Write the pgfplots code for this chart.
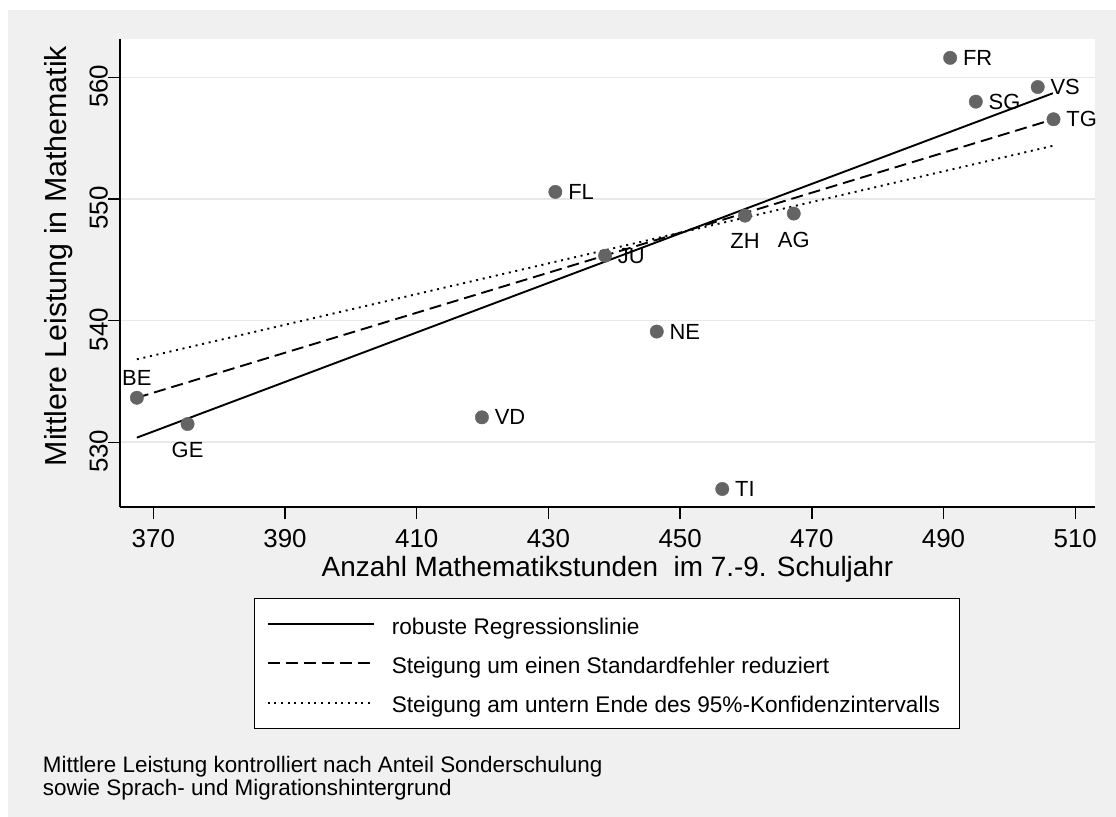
\documentclass[border=0pt]{standalone}
\usepackage{fontspec}
\setmainfont{Liberation Sans}
\usepackage{pgfplots}
\pgfplotsset{compat=1.18}
\definecolor{bggray}{RGB}{240,240,240}
\definecolor{gridgray}{RGB}{232,232,232}
\definecolor{markgray}{RGB}{100,100,100}
\begin{document}
\begin{tikzpicture}
\useasboundingbox (0,0) rectangle (1116bp,817bp);
\fill[white] (0,0) rectangle (1116bp,817bp);
\fill[bggray] (8bp,0) rectangle (1116bp,807bp);
\begin{axis}[
  at={(120bp,310bp)}, anchor=south west,
  scale only axis, width=975bp, height=468bp,
  xmin=364.94, xmax=513.0, ymin=524.68, ymax=563.15,
  axis background/.style={fill=white},
  axis x line*=bottom, axis y line*=left,
  axis line style={-, black, line width=2bp},
  clip=false,
  xtick={370,390,...,510}, ytick={530,540,550,560},
  tick align=outside, major tick length=12bp,
  tick style={black, line width=1.4bp},
  ymajorgrids, grid style={gridgray, line width=1.6bp},
  /pgf/number format/assume math mode=true,
  /pgf/number format/1000 sep={},
  ticklabel style={font=\fontsize{26}{26}\selectfont, black},
  xticklabel style={anchor=north, inner sep=0pt, yshift=-10bp},
  yticklabel style={rotate=90, anchor=south, inner sep=0pt, xshift=-9bp},
  xlabel={Anzahl Mathematikstunden\ \ im 7.-9. Schuljahr},
  ylabel={Mittlere Leistung in Mathematik},
  every axis x label/.style={at={(axis description cs:0.5,-0.1489)}, anchor=base, font=\fontsize{28}{28}\selectfont},
  every axis y label/.style={at={(axis description cs:-0.0547,0.5363)}, rotate=90, anchor=base, font=\fontsize{30.5}{30.5}\selectfont},
  legend style={at={(axis description cs:0.1374,-0.1944)}, anchor=north west,
    draw=black, line width=1.3bp, fill=white,
    inner xsep=12bp, inner ysep=6bp, row sep=0bp,
    font=\fontsize{22.7}{22.7}\selectfont,
    /tikz/every odd column/.append style={column sep=16.6bp},
    nodes={inner sep=0pt, minimum height=39.2bp, text height=22bp, text depth=2.3bp}},
  legend cell align=left,
  legend image code/.code={\draw[#1] (0bp,0bp) -- (106.7bp,0bp);},
]
\addplot[black, line width=1.9bp, solid] coordinates {(367.5,530.38) (506.6,558.69)};
\addlegendentry{\makebox[556bp][l]{robuste Regressionslinie}}
\addplot[black, line width=1.9bp, dash pattern=on 12bp off 6bp] coordinates {(367.5,533.66) (506.7,556.55)};
\addlegendentry{\makebox[556bp][l]{Steigung um einen Standardfehler reduziert}}
\addplot[black, line width=1.9bp, dash pattern=on 2bp off 4.7bp] coordinates {(367.5,536.82) (506.7,554.38)};
\addlegendentry{\makebox[556bp][l]{Steigung am untern Ende des 95\%-Konfidenzintervalls}}
% markers, labels to the right
\addplot[only marks, mark=*, mark size=6.7bp, markgray, mark options={fill=markgray, draw=markgray},
  point meta=explicit symbolic, nodes near coords,
  nodes near coords style={anchor=west, inner sep=0pt, xshift=12.7bp, font=\fontsize{22}{22}\selectfont, black},
  forget plot] table[meta=label] {
x y label
491.0 561.6 FR
504.3 559.2 VS
494.9 558.0 SG
506.7 556.55 TG
431.05 550.58 FL
438.6 545.34 JU
446.45 539.1 NE
456.4 526.16 TI
419.9 532.05 VD
};
% labels below
\addplot[only marks, mark=*, mark size=6.7bp, markgray, mark options={fill=markgray, draw=markgray},
  point meta=explicit symbolic, nodes near coords,
  nodes near coords style={anchor=north, inner sep=0pt, yshift=-18bp, font=\fontsize{22}{22}\selectfont, black},
  forget plot] table[meta=label] {
x y label
459.85 548.63 ZH
467.25 548.8 AG
375.2 531.5 GE
};
% label above
\addplot[only marks, mark=*, mark size=6.7bp, markgray, mark options={fill=markgray, draw=markgray},
  point meta=explicit symbolic, nodes near coords,
  nodes near coords style={anchor=south, inner sep=0pt, yshift=11.7bp, font=\fontsize{22}{22}\selectfont, black},
  forget plot] table[meta=label] {
x y label
367.5 533.66 BE
};
\end{axis}
\node[anchor=base west, inner sep=0pt, font=\fontsize{22.5}{22.5}\selectfont] at (42.7bp,44bp) {Mittlere Leistung kontrolliert nach Anteil Sonderschulung};
\node[anchor=base west, inner sep=0pt, font=\fontsize{22.5}{22.5}\selectfont] at (42.7bp,22bp) {sowie Sprach- und Migrationshintergrund};
\end{tikzpicture}
\end{document}
